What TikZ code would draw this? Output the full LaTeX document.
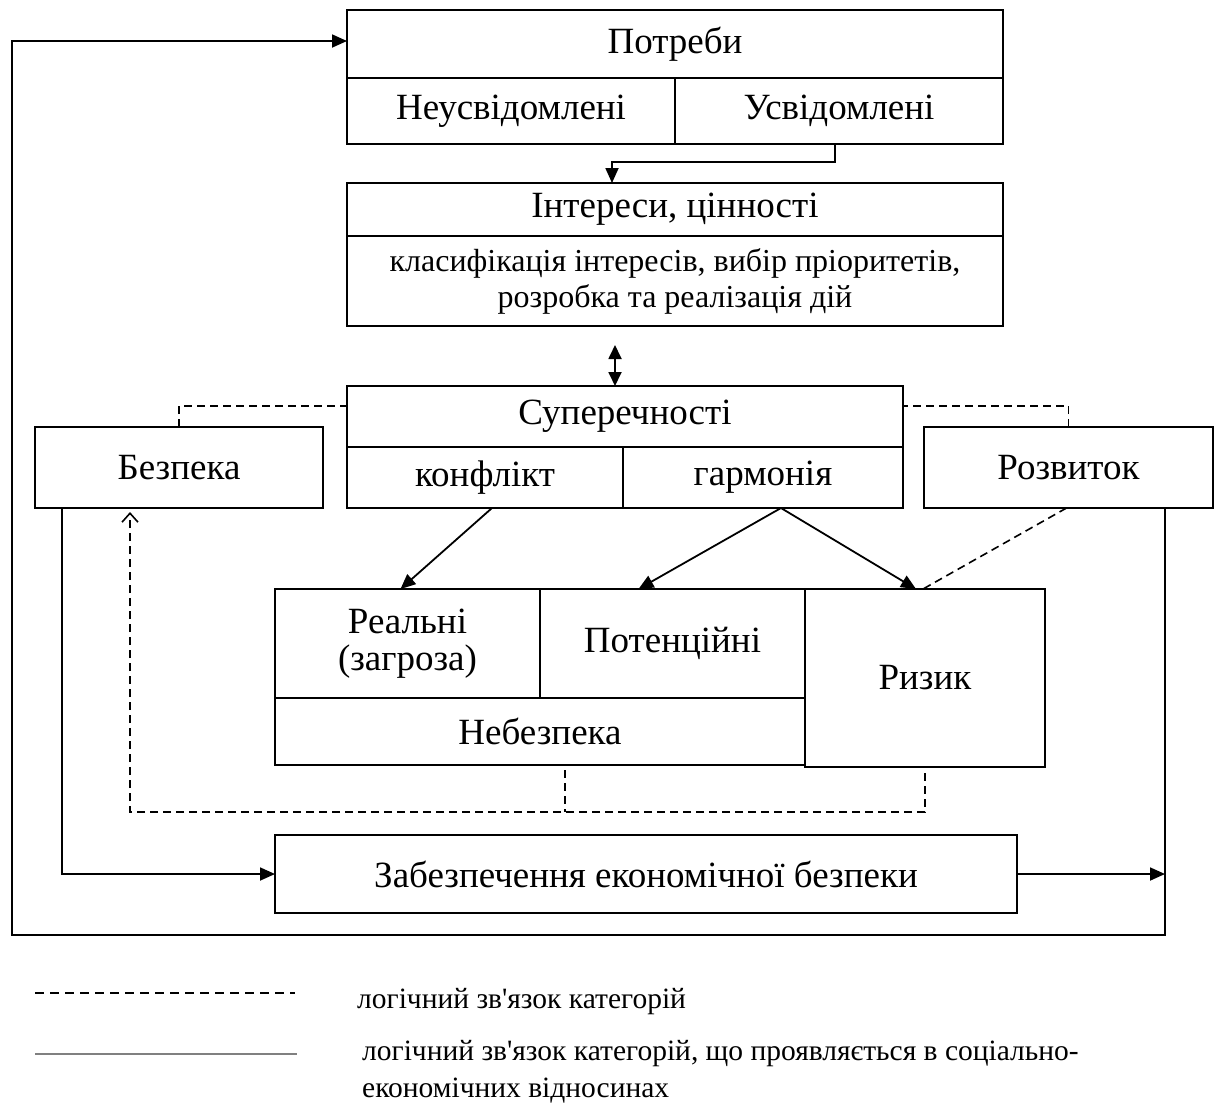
\documentclass[tikz,border=0pt]{standalone}
\usepackage{fontspec}
\setmainfont{Liberation Serif}
\newfontfamily\legfnt[Ligatures=TeXOff]{Liberation Serif}
\usetikzlibrary{arrows.meta,calc}
\begin{document}
\begin{tikzpicture}[x=1pt,y=-1pt,
  box/.style={draw, line width=1.8pt, inner sep=0pt, outer sep=0pt, anchor=north west, align=center, font=\fontsize{37}{37}\selectfont},
  smallbox/.style={box, font=\fontsize{32}{36}\selectfont},
  ln/.style={line width=1.8pt},
  arr/.style={ln, -{Triangle[length=15pt,width=13pt]}},
  dblarr/.style={ln, {Triangle[length=14pt,width=13pt]}-{Triangle[length=14pt,width=13pt]}},
  dsh/.style={line width=1.6pt, dash pattern=on 8pt off 5pt},
  dsharr/.style={dsh, -{Straight Barb[length=9pt,width=16pt,line width=1.6pt]}},
  leg/.style={anchor=west, inner sep=0pt, align=left, font=\legfnt\fontsize{29.5}{37}\selectfont}
]
\useasboundingbox (0,0) rectangle (1215,1104);

% boxes
\node[box, minimum width=656pt, minimum height=68pt] (potr) at (347,10) {Потреби};
\node[box, minimum width=328pt, minimum height=66pt] (neus) at (347,78) {Неусвідомлені};
\node[box, minimum width=328pt, minimum height=66pt] (usv) at (675,78) {Усвідомлені};

\node[box, minimum width=656pt, minimum height=53pt] (int) at (347,183) {Інтереси, цінності};
\node[smallbox, minimum width=656pt, minimum height=90pt] (klas) at (347,236) {класифікація інтересів, вибір пріоритетів,\\розробка та реалізація дій};

\node[box, minimum width=556pt, minimum height=61pt] (sup) at (347,386) {Суперечності};
\node[box, minimum width=276pt, minimum height=61pt] (konf) at (347,447) {конфлікт};
\node[box, minimum width=280pt, minimum height=61pt] (harm) at (623,447) {гармонія};

\node[box, minimum width=288pt, minimum height=81pt] (bez) at (35,427) {Безпека};
\node[box, minimum width=289pt, minimum height=81pt] (roz) at (924,427) {Розвиток};

\node[box, minimum width=265pt, minimum height=109pt] (real) at (275,589) {Реальні\\(загроза)};
\node[box, minimum width=265pt, minimum height=109pt] (pot) at (540,589) {\raisebox{6pt}{Потенційні}};
\node[box, minimum width=530pt, minimum height=67pt] (neb) at (275,698) {Небезпека};
\node[box, minimum width=240pt, minimum height=178pt] (ryz) at (805,589) {Ризик};

\node[box, minimum width=742pt, minimum height=78pt] (zab) at (275,835) {Забезпечення економічної безпеки};

% connectors
\draw[arr] ([xshift=-4pt]usv.south) -- ++(0,18) -| ([xshift=-63pt]int.north);
\draw[dblarr] ([xshift=-10pt,yshift=41pt]sup.north) -- ([xshift=-10pt]sup.north);

\draw[dsh] (bez.north) |- ([yshift=-20pt]sup.north west);
\draw[dsh] (roz.north) |- ([yshift=-20pt]sup.north east);

\draw[arr] ([xshift=7pt]konf.south) -- ([xshift=-7pt]real.north);
\draw[arr] ([xshift=18pt]harm.south) -- ([xshift=-34pt]pot.north);
\draw[arr] ([xshift=18pt]harm.south) -- ([xshift=-9pt]ryz.north);
\draw[dsh] ([xshift=-2pt]roz.south) -- ([xshift=-2pt]ryz.north);

\coordinate (dj) at (130,812);
\coordinate (nbx) at ([xshift=25pt,yshift=-5pt]neb.south);
\draw[dsharr] ([yshift=-6pt]ryz.south) |- (dj) -- ([xshift=-49pt,yshift=-4pt]bez.south);
\draw[dsh] (nbx) -- (nbx |- dj);

\draw[arr] ([xshift=-117pt]bez.south) |- (zab.west);
\coordinate (rb) at ([xshift=96.5pt]roz.south);
\coordinate (lc) at (12,935);
\draw[arr] (zab.east) -- (zab.east -| rb);
\draw[arr] (rb) |- (lc) |- ([yshift=3pt]potr.west);

% legend
\node[leg] (l1) at (357,1002) {логічний зв'язок категорій};
\node[leg, anchor=north west] (l2) at (362,1040) {логічний зв'язок категорій, що проявляється в соціально-\\економічних відносинах};
\draw[line width=1.6pt, dash pattern=on 9pt off 6pt] ([xshift=-322pt,yshift=9pt]l1.west) -- ([xshift=-62pt,yshift=9pt]l1.west);
\draw[line width=1.3pt, gray] ([xshift=-327pt,yshift=-14pt]l2.north west) -- ([xshift=-65pt,yshift=-14pt]l2.north west);
\end{tikzpicture}
\end{document}
